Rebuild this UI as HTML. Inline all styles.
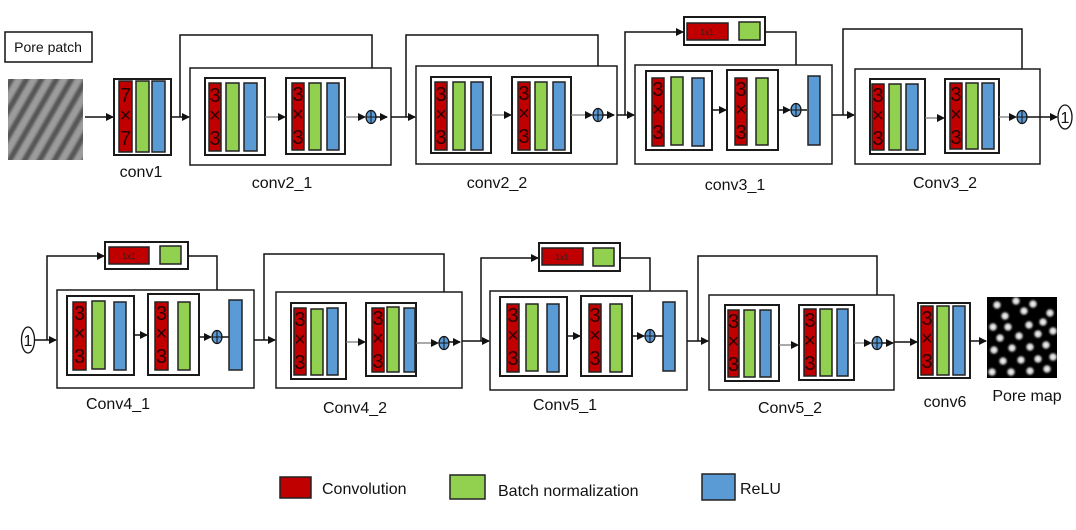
<!DOCTYPE html>
<html><head><meta charset="utf-8"><style>
html,body{margin:0;padding:0;background:#fff;}
svg{display:block;}
text{font-family:"Liberation Sans","DejaVu Sans",sans-serif;}
.o{fill:#fff;stroke:#1a1a1a;stroke-width:1.5}
.i{fill:#fff;stroke:#1a1a1a;stroke-width:2}
.r{fill:#c00000;stroke:#222;stroke-width:1.5}
.g{fill:#92d050;stroke:#222;stroke-width:1.5}
.b{fill:#5b9bd5;stroke:#222;stroke-width:1.5}
.l{fill:none;stroke:#111;stroke-width:1.5}
.lg{fill:none;stroke:#777;stroke-width:1.2}
.k{font-size:20px;fill:#2a0000;text-anchor:middle}
.lab{font-size:16px;fill:#111;text-anchor:middle}
.s{font-size:8px;fill:#222;text-anchor:middle}
</style></head><body>
<svg width="1076" height="530" viewBox="0 0 1076 530" xmlns="http://www.w3.org/2000/svg">
<defs>
<marker id="a" markerWidth="8" markerHeight="8" refX="7" refY="4" orient="auto" markerUnits="userSpaceOnUse"><path d="M0,0 L8,4 L0,8 z" fill="#111"/></marker>
<pattern id="fp" width="13" height="13" patternUnits="userSpaceOnUse" patternTransform="rotate(-60)">
<rect width="13" height="13" fill="#9c9c9c"/><rect width="13" height="6" fill="#575757"/></pattern>
<filter id="bl"><feGaussianBlur stdDeviation="1"/></filter>
<radialGradient id="dot"><stop offset="0" stop-color="#fff"/><stop offset="0.45" stop-color="#bbb"/><stop offset="1" stop-color="#000" stop-opacity="0"/></radialGradient>
<g id="plus"><ellipse cx="0" cy="0" rx="5" ry="6.5" fill="#5b9bd5" stroke="#111" stroke-width="1.2"/><path d="M-5,0 H5 M0,-6.5 V6.5" stroke="#111" stroke-width="1"/></g>
<g id="k33"><text class="k" x="0" y="0">3</text><text class="k" x="0" y="20" font-size="16">×</text><text class="k" x="0" y="43">3</text></g>
</defs>

<!-- Row 1 -->
<rect x="5" y="32" width="87" height="30" fill="#fff" stroke="#111" stroke-width="1.5"/>
<text x="48" y="52" font-size="14" text-anchor="middle" fill="#111">Pore patch</text>
<svg x="8" y="79" width="75" height="81"><rect x="-5" y="-5" width="85" height="91" fill="url(#fp)" filter="url(#bl)"/></svg>
<line class="l" x1="85" y1="117" x2="113" y2="117" stroke-width="2" marker-end="url(#a)"/>

<!-- conv1 -->
<rect class="i" x="114" y="79" width="57" height="76"/>
<rect class="r" x="119" y="81" width="13" height="71"/><rect class="g" x="136" y="81" width="13" height="71"/><rect class="b" x="152" y="81" width="13" height="71"/>
<text class="k" x="125.5" y="102">7</text><text class="k" x="125.5" y="122" font-size="16">×</text><text class="k" x="125.5" y="145">7</text>
<text class="lab" x="141" y="177">conv1</text>

<line class="l" x1="171" y1="117" x2="189" y2="117" marker-end="url(#a)"/>
<polyline class="l" points="180,117 180,35 372,35 372,108" marker-end="url(#a)"/>

<!-- conv2_1 -->
<rect class="o" x="190" y="68" width="201" height="97"/>
<rect class="i" x="205" y="78" width="60" height="77"/>
<rect class="r" x="209" y="83" width="12" height="68"/><rect class="g" x="226" y="83" width="13" height="68"/><rect class="b" x="244" y="83" width="13" height="68"/>
<use href="#k33" x="215" y="102"/>
<line class="lg" x1="265" y1="117" x2="285" y2="117" marker-end="url(#a)"/>
<rect class="i" x="286" y="78" width="59" height="76"/>
<rect class="r" x="292" y="83" width="12" height="67"/><rect class="g" x="309" y="83" width="12" height="67"/><rect class="b" x="327" y="83" width="12" height="67"/>
<use href="#k33" x="298" y="101"/>
<line class="lg" x1="345" y1="117" x2="365" y2="117" marker-end="url(#a)"/>
<use href="#plus" x="371" y="117"/>
<line class="l" x1="376" y1="117" x2="387" y2="117" marker-end="url(#a)"/>
<text class="lab" x="282" y="188">conv2_1</text>

<line class="l" x1="391" y1="117" x2="415" y2="117" marker-end="url(#a)"/>
<polyline class="l" points="406,117 406,35 598,35 598,107" marker-end="url(#a)"/>

<!-- conv2_2 -->
<rect class="o" x="416" y="66" width="201" height="98"/>
<rect class="i" x="431" y="77" width="60" height="76"/>
<rect class="r" x="435" y="82" width="12" height="68"/><rect class="g" x="453" y="82" width="12" height="68"/><rect class="b" x="471" y="82" width="12" height="68"/>
<use href="#k33" x="441" y="101"/>
<line class="lg" x1="491" y1="115" x2="511" y2="115" marker-end="url(#a)"/>
<rect class="i" x="512" y="77" width="59" height="76"/>
<rect class="r" x="518" y="82" width="12" height="68"/><rect class="g" x="535" y="82" width="12" height="68"/><rect class="b" x="553" y="82" width="12" height="68"/>
<use href="#k33" x="524" y="100"/>
<line class="lg" x1="571" y1="115" x2="592" y2="115" marker-end="url(#a)"/>
<use href="#plus" x="598" y="115"/>
<line class="l" x1="603" y1="115" x2="614" y2="115" marker-end="url(#a)"/>
<text class="lab" x="497" y="188">conv2_2</text>

<line class="l" x1="617" y1="115" x2="634" y2="115" marker-end="url(#a)"/>
<polyline class="l" points="625,115 625,32 683,32" marker-end="url(#a)"/>
<rect class="i" x="684" y="17" width="81" height="28"/>
<rect class="r" x="687" y="23" width="41" height="17"/><text class="s" x="707" y="35">1x1</text>
<rect class="g" x="739" y="22" width="21" height="18"/>
<polyline class="l" points="765,32 796,32 796,102" marker-end="url(#a)"/>

<!-- conv3_1 -->
<rect class="o" x="635" y="65" width="197" height="99"/>
<rect class="i" x="646" y="71" width="66" height="79"/>
<rect class="r" x="652" y="78" width="12" height="68"/><rect class="g" x="671" y="77" width="12" height="68"/><rect class="b" x="692" y="78" width="12" height="68"/>
<use href="#k33" x="658" y="96"/>
<line class="l" x1="712" y1="110" x2="726" y2="110" marker-end="url(#a)"/>
<rect class="i" x="727" y="70" width="51" height="80"/>
<rect class="r" x="735" y="78" width="12" height="67"/><rect class="g" x="756" y="78" width="12" height="67"/>
<use href="#k33" x="741" y="96"/>
<line class="l" x1="778" y1="110" x2="790" y2="110" marker-end="url(#a)"/>
<use href="#plus" x="796" y="110"/>
<line class="l" x1="801" y1="110" x2="807" y2="110"/>
<rect class="b" x="808" y="76" width="12" height="69"/>
<text class="lab" x="735" y="190">conv3_1</text>

<line class="l" x1="832" y1="115" x2="854" y2="115" marker-end="url(#a)"/>
<polyline class="l" points="843,115 843,29 1022,29 1022,109" marker-end="url(#a)"/>

<!-- conv3_2 -->
<rect class="o" x="855" y="69" width="185" height="95"/>
<rect class="i" x="870" y="79" width="55" height="75"/>
<rect class="r" x="872" y="84" width="12" height="66"/><rect class="g" x="889" y="84" width="12" height="66"/><rect class="b" x="906" y="84" width="12" height="66"/>
<use href="#k33" x="878" y="102"/>
<line class="lg" x1="925" y1="118" x2="944" y2="118" marker-end="url(#a)"/>
<rect class="i" x="945" y="79" width="54" height="74"/>
<rect class="r" x="950" y="83" width="12" height="66"/><rect class="g" x="966" y="83" width="12" height="66"/><rect class="b" x="982" y="83" width="12" height="66"/>
<use href="#k33" x="956" y="101"/>
<line class="lg" x1="999" y1="117" x2="1016" y2="117" marker-end="url(#a)"/>
<use href="#plus" x="1022" y="117"/>
<line class="l" x1="1027" y1="117" x2="1057" y2="117" marker-end="url(#a)"/>
<ellipse cx="1065" cy="117" rx="7" ry="12" fill="#fff" stroke="#111" stroke-width="1.3"/>
<text x="1065" y="123" font-size="16" text-anchor="middle" fill="#111">1</text>
<text class="lab" x="945" y="188">Conv3_2</text>

<!-- Row 2 -->
<ellipse cx="28" cy="340" rx="6.5" ry="13" fill="#fff" stroke="#111" stroke-width="1.3"/>
<text x="28" y="346" font-size="16" text-anchor="middle" fill="#111">1</text>
<line class="l" x1="35" y1="340" x2="56" y2="340" marker-end="url(#a)"/>
<polyline class="l" points="47,340 47,256 104,256" marker-end="url(#a)"/>
<rect class="i" x="105" y="242" width="83" height="27"/>
<rect class="r" x="109" y="247" width="40" height="17"/><text class="s" x="129" y="259">1x1</text>
<rect class="g" x="160" y="246" width="21" height="18"/>
<polyline class="l" points="188,256 217,256 217,329" marker-end="url(#a)"/>

<!-- Conv4_1 -->
<rect class="o" x="57" y="290" width="197" height="98"/>
<rect class="i" x="67" y="296" width="67" height="79"/>
<rect class="r" x="73" y="302" width="13" height="68"/><rect class="g" x="92" y="301" width="13" height="68"/><rect class="b" x="114" y="302" width="12" height="68"/>
<use href="#k33" x="79.5" y="320"/>
<line class="l" x1="134" y1="335" x2="147" y2="335" marker-end="url(#a)"/>
<rect class="i" x="148" y="294" width="51" height="81"/>
<rect class="r" x="155" y="302" width="13" height="68"/><rect class="g" x="178" y="302" width="12" height="68"/>
<use href="#k33" x="161.5" y="320"/>
<line class="l" x1="199" y1="337" x2="211" y2="337" marker-end="url(#a)"/>
<use href="#plus" x="217" y="337"/>
<line class="l" x1="222" y1="337" x2="229" y2="337"/>
<rect class="b" x="229" y="300" width="13" height="70"/>
<text class="lab" x="118" y="409">Conv4_1</text>

<line class="l" x1="254" y1="340" x2="275" y2="340" marker-end="url(#a)"/>
<polyline class="l" points="264,340 264,254 444,254 444,335" marker-end="url(#a)"/>

<!-- Conv4_2 -->
<rect class="o" x="276" y="292" width="186" height="96"/>
<rect class="i" x="291" y="303" width="55" height="76"/>
<rect class="r" x="294" y="308" width="12" height="67"/><rect class="g" x="311" y="309" width="12" height="66"/><rect class="b" x="327" y="308" width="11" height="67"/>
<use href="#k33" x="300" y="326"/>
<line class="lg" x1="346" y1="342" x2="365" y2="342" marker-end="url(#a)"/>
<rect class="i" x="366" y="303" width="50" height="73"/>
<rect class="r" x="372" y="308" width="12" height="64"/><rect class="g" x="387" y="307" width="12" height="65"/><rect class="b" x="404" y="308" width="11" height="64"/>
<use href="#k33" x="378" y="325"/>
<line class="lg" x1="416" y1="343" x2="438" y2="343" marker-end="url(#a)"/>
<use href="#plus" x="444" y="343"/>
<line class="l" x1="449" y1="342" x2="460" y2="342" marker-end="url(#a)"/>
<text class="lab" x="355" y="413">Conv4_2</text>

<line class="l" x1="462" y1="341" x2="489" y2="341" marker-end="url(#a)"/>
<polyline class="l" points="481,341 481,258 538,258" marker-end="url(#a)"/>
<rect class="i" x="539" y="243" width="81" height="28"/>
<rect class="r" x="542" y="248" width="41" height="17"/><text class="s" x="562" y="260">1x1</text>
<rect class="g" x="593" y="248" width="21" height="18"/>
<polyline class="l" points="620,258 650,258 650,328" marker-end="url(#a)"/>

<!-- Conv5_1 -->
<rect class="o" x="490" y="291" width="197" height="99"/>
<rect class="i" x="500" y="297" width="67" height="79"/>
<rect class="r" x="507" y="304" width="12" height="68"/><rect class="g" x="526" y="304" width="12" height="67"/><rect class="b" x="547" y="304" width="12" height="68"/>
<use href="#k33" x="513" y="322"/>
<line class="l" x1="567" y1="336" x2="580" y2="336" marker-end="url(#a)"/>
<rect class="i" x="581" y="296" width="51" height="80"/>
<rect class="r" x="589" y="304" width="12" height="68"/><rect class="g" x="610" y="304" width="12" height="68"/>
<use href="#k33" x="595" y="322"/>
<line class="l" x1="632" y1="336" x2="644" y2="336" marker-end="url(#a)"/>
<use href="#plus" x="650" y="336"/>
<line class="l" x1="655" y1="336" x2="663" y2="336"/>
<rect class="b" x="663" y="302" width="12" height="69"/>
<text class="lab" x="565" y="410">Conv5_1</text>

<line class="l" x1="687" y1="341" x2="708" y2="341" marker-end="url(#a)"/>
<polyline class="l" points="698,341 698,256 877,256 877,335" marker-end="url(#a)"/>

<!-- Conv5_2 -->
<rect class="o" x="709" y="295" width="185" height="95"/>
<rect class="i" x="725" y="305" width="54" height="76"/>
<rect class="r" x="728" y="310" width="11" height="67"/><rect class="g" x="744" y="310" width="11" height="67"/><rect class="b" x="760" y="310" width="11" height="67"/>
<use href="#k33" x="733.5" y="328"/>
<line class="lg" x1="779" y1="345" x2="798" y2="345" marker-end="url(#a)"/>
<rect class="i" x="799" y="305" width="55" height="75"/>
<rect class="r" x="804" y="309" width="12" height="67"/><rect class="g" x="820" y="309" width="12" height="67"/><rect class="b" x="837" y="309" width="11" height="67"/>
<use href="#k33" x="810" y="327"/>
<line class="lg" x1="854" y1="343" x2="871" y2="343" marker-end="url(#a)"/>
<use href="#plus" x="877" y="343"/>
<line class="l" x1="882" y1="343" x2="893" y2="343" marker-end="url(#a)"/>
<text class="lab" x="790" y="413">Conv5_2</text>

<line class="l" x1="894" y1="342" x2="917" y2="342" stroke-width="2" marker-end="url(#a)"/>
<!-- conv6 -->
<rect class="i" x="918" y="303" width="52" height="75"/>
<rect class="r" x="921" y="306" width="12" height="69"/><rect class="g" x="937" y="306" width="12" height="69"/><rect class="b" x="953" y="306" width="12" height="69"/>
<use href="#k33" x="927" y="325"/>
<text class="lab" x="945" y="407">conv6</text>
<line class="l" x1="970" y1="341" x2="986" y2="341" marker-end="url(#a)"/>

<!-- pore map -->
<rect x="987" y="297" width="70" height="81" fill="#000"/>
<svg x="987" y="297" width="70" height="81">
<g fill="url(#dot)" transform="translate(-987,-297)">
<circle cx="997" cy="305" r="6"/><circle cx="1016" cy="301" r="6"/><circle cx="1033" cy="304" r="6"/>
<circle cx="1005" cy="316" r="6"/><circle cx="1024" cy="311" r="6"/><circle cx="1050" cy="313" r="6"/>
<circle cx="993" cy="327" r="6"/><circle cx="1008" cy="327" r="6"/><circle cx="1029" cy="325" r="6"/><circle cx="1043" cy="322" r="6"/>
<circle cx="1000" cy="338" r="6"/><circle cx="1019" cy="336" r="6"/><circle cx="1038" cy="334" r="6"/><circle cx="1053" cy="331" r="6"/>
<circle cx="994" cy="350" r="6"/><circle cx="1012" cy="348" r="6"/><circle cx="1030" cy="347" r="6"/><circle cx="1046" cy="345" r="6"/>
<circle cx="1003" cy="361" r="6"/><circle cx="1021" cy="360" r="6"/><circle cx="1038" cy="359" r="6"/><circle cx="1053" cy="357" r="6"/>
<circle cx="992" cy="372" r="6"/><circle cx="1011" cy="372" r="6"/><circle cx="1030" cy="371" r="6"/><circle cx="1047" cy="369" r="6"/>
</g></svg>
<text class="lab" x="1027" y="401">Pore map</text>

<!-- Legend -->
<rect class="r" x="280" y="477" width="31" height="21"/>
<text x="322" y="494" font-size="16" fill="#111">Convolution</text>
<rect class="g" x="450" y="475" width="35" height="24"/>
<text x="498" y="496" font-size="16" fill="#111">Batch normalization</text>
<rect class="b" x="702" y="474" width="33" height="26"/>
<text x="740" y="494" font-size="16" fill="#111">ReLU</text>
</svg>
</body></html>
